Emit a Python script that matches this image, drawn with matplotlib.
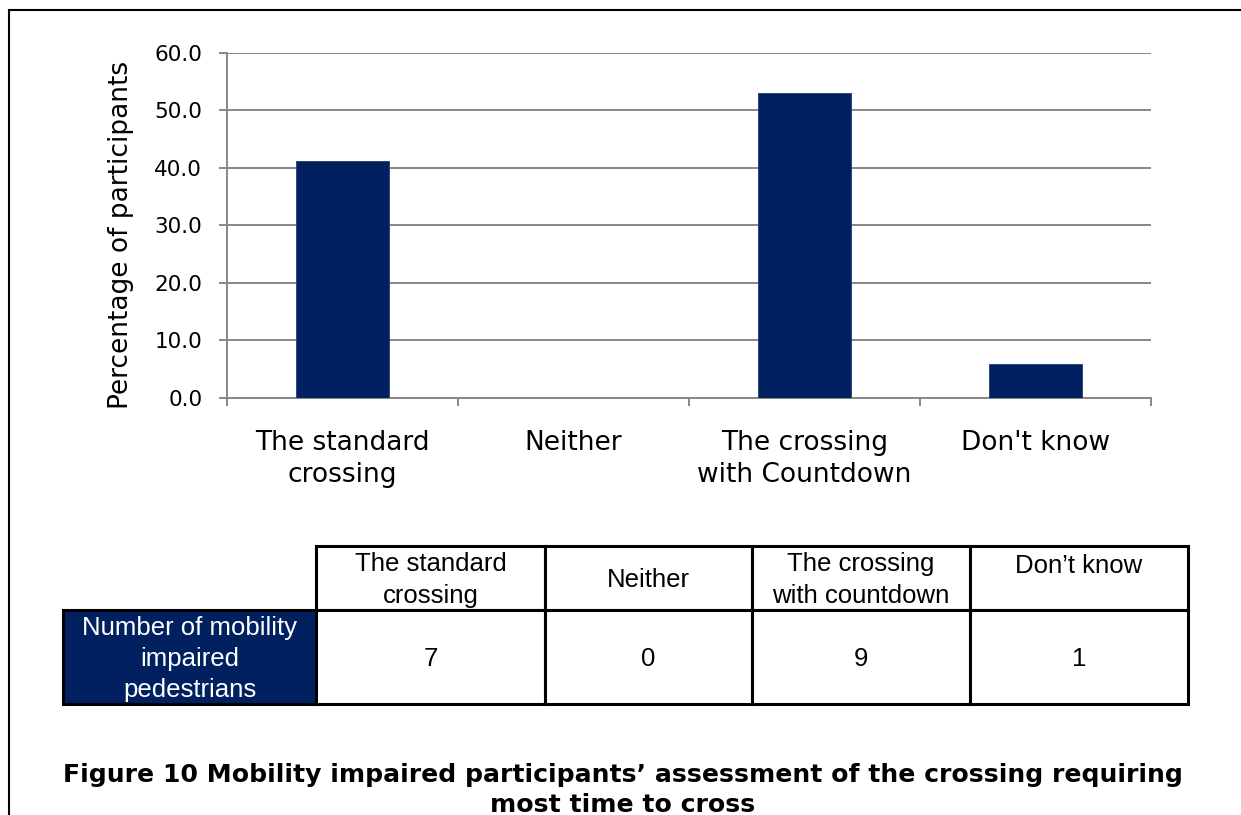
import numpy as np
import matplotlib
matplotlib.use("Agg")
import matplotlib.pyplot as plt
from matplotlib.ticker import FormatStrFormatter, FixedLocator, NullFormatter, FixedFormatter
from matplotlib.patches import Rectangle

# ---- data ----
categories = ["The standard\ncrossing", "Neither", "The crossing\nwith Countdown", "Don't know"]
percentages = [41.2, 0.0, 52.9, 5.9]
y_ticks = [0, 10, 20, 30, 40, 50, 60]
y_label = "Percentage of participants"

table_headers = ["The standard\ncrossing", "Neither", "The crossing\nwith countdown", "Don\u2019t know"]
table_row_label = "Number of mobility\nimpaired\npedestrians"
table_counts = [7, 0, 9, 1]

title = ("Figure 10 Mobility impaired participants\u2019 assessment of the crossing requiring\n"
         "most time to cross")

# ---- style ----
W, H = 1241, 815
NAVY = "#002060"
GRID = "#878787"

fig = plt.figure(figsize=(W / 100, H / 100), dpi=100)
fig.patch.set_facecolor("white")

# main chart axes
ax_l, ax_r, ax_t, ax_b = 227, 1151, 52.5, 398
ax = fig.add_axes([ax_l / W, 1 - ax_b / H, (ax_r - ax_l) / W, (ax_b - ax_t) / H])
x = np.arange(len(categories))
ax.bar(x, percentages, width=0.4, color=NAVY, edgecolor="#2c4678", linewidth=0.7, zorder=3)
ax.set_xlim(-0.5, len(categories) - 0.5)
ax.set_ylim(y_ticks[0], y_ticks[-1])
ax.set_yticks(y_ticks)
ax.yaxis.set_major_formatter(FormatStrFormatter("%.1f"))
ax.grid(axis="y", color=GRID, linewidth=1.4, zorder=0)
ax.set_axisbelow(True)

ax.xaxis.set_major_locator(FixedLocator(np.arange(len(categories) + 1) - 0.5))
ax.xaxis.set_major_formatter(NullFormatter())
ax.xaxis.set_minor_locator(FixedLocator(x))
ax.xaxis.set_minor_formatter(FixedFormatter(categories))
ax.tick_params(axis="x", which="major", direction="out", length=5.8, width=1.4, color=GRID)
ax.tick_params(axis="x", which="minor", length=0, pad=23, labelsize=19, labelcolor="black")
ax.tick_params(axis="y", direction="out", length=5.8, width=1.4, color=GRID, pad=12,
               labelsize=15.5, labelcolor="black")
for lab in ax.xaxis.get_minorticklabels():
    lab.set_linespacing(1.28)
for s in ("top", "right"):
    ax.spines[s].set_visible(False)
for s in ("left", "bottom"):
    ax.spines[s].set_color(GRID)
    ax.spines[s].set_linewidth(1.4)

ax.set_ylabel(y_label, fontsize=19, color="black", va="center")
ax.yaxis.set_label_coords((121 - ax_l) / (ax_r - ax_l), (ax_b - 235) / (ax_b - ax_t))

# overlay axes in pixel units for frame, table and caption
ov = fig.add_axes([0, 0, 1, 1], facecolor="none")
ov.set_xlim(0, W)
ov.set_ylim(H, 0)
ov.axis("off")

# page frame (left and top lines)
ov.plot([9, 9], [H + 5, 10], color="black", lw=1.5, solid_capstyle="projecting")
ov.plot([9, W + 5], [10, 10], color="black", lw=1.5, solid_capstyle="projecting")

# table
tab_x0, tab_y0 = 63, 546
col_w = [253, 229, 207, 218, 218]
row_h = [64, 94]
header_va = ["center", "center", "center", "top"]
tfont = dict(family=["Liberation Sans", "DejaVu Sans"], fontsize=18.5, linespacing=1.38)
col_x = np.concatenate([[tab_x0], tab_x0 + np.cumsum(col_w)])
row_y = [tab_y0, tab_y0 + row_h[0], tab_y0 + row_h[0] + row_h[1]]

# header row (no top-left cell)
for j, txt in enumerate(table_headers):
    x0, x1 = col_x[j + 1], col_x[j + 2]
    ov.add_patch(Rectangle((x0, row_y[0]), x1 - x0, row_h[0], facecolor="white",
                           edgecolor="black", lw=2.2))
    if header_va[j] == "center":
        ov.text((x0 + x1) / 2, (row_y[0] + row_y[1]) / 2 + 2, txt, ha="center", va="center", **tfont)
    else:
        ov.text((x0 + x1) / 2, row_y[0] + 8, txt, ha="center", va="top", **tfont)

# data row
ov.add_patch(Rectangle((col_x[0], row_y[1]), col_x[1] - col_x[0], row_h[1], facecolor=NAVY,
                       edgecolor="black", lw=2.2))
ov.text((col_x[0] + col_x[1]) / 2, (row_y[1] + row_y[2]) / 2 + 2, table_row_label,
        ha="center", va="center", color="white", **tfont)
for j, val in enumerate(table_counts):
    x0, x1 = col_x[j + 1], col_x[j + 2]
    ov.add_patch(Rectangle((x0, row_y[1]), x1 - x0, row_h[1], facecolor="white",
                           edgecolor="black", lw=2.2))
    ov.text((x0 + x1) / 2, (row_y[1] + row_y[2]) / 2 + 2, str(val), ha="center", va="center",
            **tfont)

# caption
ov.text(623, 763, title, ha="center", va="top", fontsize=18.1, fontweight="bold",
        family="DejaVu Sans", linespacing=1.32)

fig.savefig("out.png", dpi=100, facecolor="white")
